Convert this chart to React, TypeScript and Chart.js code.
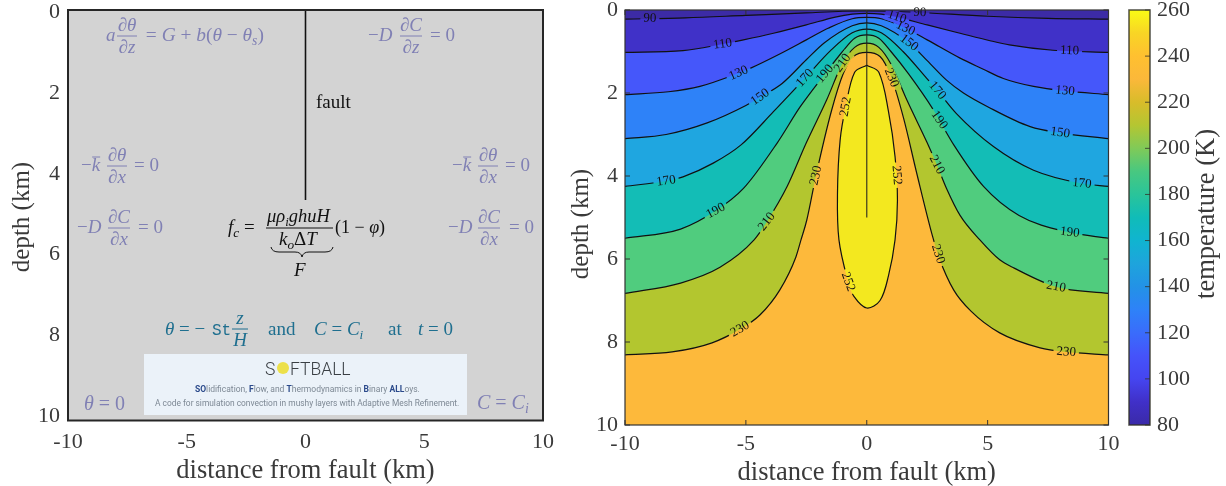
import React, { useEffect, useRef } from "react";
import { Chart, registerables } from "chart.js";

Chart.register(...registerables);

const FONT = "'Liberation Serif'";
const TICK_COLOR = "#3a3a3a";
const xTicks = [-10, -5, 0, 5, 10];
const yTicks = [0, 2, 4, 6, 8, 10];
const colorTicks = [80, 100, 120, 140, 160, 180, 200, 220, 240, 260];

const faultLeft = [[0, -0.05], [0, 4.65]];
const faultRight = [[0, 0], [0, 5]];

const c90 = [[-10, .22], [-7.5, .19], [-5, .13], [-2.5, .07], [-1, .03], [0, .02], [1, .03], [2.2, .06], [5, .15], [7.5, .2], [10, .22]];
const c110 = [[-10, 1.02], [-7.6, .98], [-5.96, .82], [-5.1, .72], [-3.86, .56], [-2.5, .36], [-1.3, .17], [-.6, .1], [0, .08], [.6, .1], [1.25, .17], [2.5, .36], [3.86, .56], [5.1, .74], [5.9, .84], [7.7, .97], [10, 1.02]];
const c130 = [[-10, 2.04], [-8.2, 1.97], [-6.9, 1.84], [-5.3, 1.52], [-4.8, 1.4], [-3.6, 1.06], [-2.5, .72], [-1.6, .44], [-.6, .21], [0, .18], [.6, .21], [1.6, .44], [2.5, .72], [3.86, 1.16], [4.8, 1.42], [5.65, 1.65], [6.9, 1.84], [8.2, 1.95], [10, 2.04]];
const c150 = [[-10, 3.1], [-8.3, 3.0], [-6.6, 2.72], [-5, 2.3], [-4.41, 2.1], [-3.5, 1.77], [-2.5, 1.2], [-1.75, .79], [-.6, .38], [0, .31], [.6, .38], [1.75, .79], [2.5, 1.22], [3.3, 1.69], [4, 2.0], [5, 2.33], [6.76, 2.81], [8, 2.96], [10, 3.1]];
const c170 = [[-10, 4.25], [-8.3, 4.12], [-7.6, 4.02], [-6.35, 3.69], [-5.2, 3.25], [-3.86, 2.45], [-2.55, 1.64], [-1.5, .98], [-.6, .55], [0, .46], [.6, .55], [1.5, 1.0], [2.5, 1.66], [2.92, 1.94], [3.7, 2.49], [5.24, 3.29], [6.9, 3.86], [8.9, 4.18], [10, 4.25]];
const c190 = [[-10, 5.5], [-7.7, 5.28], [-6.25, 4.84], [-5.1, 4.3], [-3.7, 3.2], [-2.75, 2.33], [-1.73, 1.54], [-1, 1.0], [-.5, .68], [0, .6], [.5, .68], [1, 1.0], [1.73, 1.54], [2.75, 2.4], [3, 2.65], [3.6, 3.25], [4.83, 4.25], [6.3, 4.95], [8.4, 5.36], [10, 5.5]];
const c210 = [[-10, 6.83], [-7.7, 6.58], [-6.07, 6.2], [-4.66, 5.54], [-4.13, 5.1], [-3.3, 4.26], [-2.5, 3.2], [-1.66, 2.17], [-1, 1.28], [-.5, .9], [0, .8], [.5, .9], [1, 1.3], [1.66, 2.17], [2.5, 3.2], [2.9, 3.73], [3.3, 4.3], [3.86, 4.95], [4.68, 5.54], [5.5, 6.02], [6.1, 6.22], [7.83, 6.67], [10, 6.83]];
const c230 = [[-10, 8.31], [-8.05, 8.24], [-6.4, 8.02], [-5.24, 7.69], [-4.42, 7.35], [-3.6, 6.75], [-2.93, 5.95], [-2.72, 5.54], [-2.48, 5.06], [-2.1, 3.99], [-1.45, 2.41], [-.97, 1.53], [-.55, 1.12], [0, 1.02], [.55, 1.12], [1, 1.6], [1.52, 2.6], [2.07, 3.94], [2.72, 5.45], [3, 5.98], [3.6, 6.75], [4.3, 7.25], [5.5, 7.78], [7.17, 8.14], [8.25, 8.24], [10, 8.31]];
const c252 = [[0, 1.33], [.5, 1.5], [.9, 2.45], [1.17, 3.53], [1.27, 4.58], [1.17, 5.54], [.9, 6.4], [.55, 7.0], [0, 7.18], [-.53, 6.9], [-.77, 6.55], [-1.15, 5.54], [-1.21, 4.4], [-1.1, 3.13], [-.87, 2.33], [-.5, 1.5], [0, 1.33]];

const levels = [c90, c110, c130, c150, c170, c190, c210, c230];
const bandColors = ["#3c2ba6", "#4031c8", "#4557fa", "#2e82f8", "#1fa6e0", "#13bdb6", "#50cc7e", "#b3c62f"];
const baseColor = "#fdb93b";
const coreColor = "#f3e81f";

// text, x, y, angle in degrees
const contourLabels: [string, number, number, number][] = [
  ["90", -8.97, .2, 2], ["110", -5.96, .82, -8], ["130", -5.3, 1.52, -24], ["150", -4.41, 2.1, -35],
  ["170", -8.3, 4.12, -8], ["170", -2.55, 1.64, -48], ["190", -6.25, 4.84, -28], ["190", -1.73, 1.54, -50],
  ["210", -4.13, 5.1, -52], ["210", -1, 1.28, -55], ["230", -2.1, 3.99, -78], ["252", -.87, 2.33, -80],
  ["252", -.77, 6.55, 70], ["230", -5.24, 7.69, -30],
  ["90", 2.2, .06, 2], ["110", 1.25, .17, 18], ["130", 1.6, .44, 25], ["150", 1.75, .79, 37],
  ["170", 2.92, 1.94, 50], ["190", 3, 2.65, 55], ["210", 2.9, 3.73, 62], ["230", 1.02, 1.63, 68],
  ["252", 1.24, 3.98, 85], ["110", 8.39, .98, 2], ["130", 8.2, 1.95, 5], ["150", 8, 2.96, 8],
  ["170", 8.9, 4.18, 5], ["190", 8.4, 5.36, 6], ["210", 7.83, 6.67, 10], ["230", 8.25, 8.24, 4], ["230", 2.95, 5.88, 72],
];

const colorStops: [number, string][] = [
  [80, "#3a2aa8"], [90, "#4030c8"], [100, "#4545f0"], [110, "#4553fa"], [120, "#3a6cfb"], [130, "#2e82f8"],
  [140, "#2392e6"], [150, "#1ea4dc"], [160, "#10b4d0"], [170, "#10bcb8"], [180, "#2ac49a"], [190, "#48c880"],
  [200, "#80ca58"], [210, "#b4c632"], [220, "#d8bc2a"], [230, "#fbb83a"], [240, "#ffc030"], [250, "#f8d525"], [260, "#f9fb15"],
];

const pts = (a: number[][]) => a.map(([x, y]) => ({ x, y }));
const setTicks = (vals: number[]) => (s: any) => { s.ticks = vals.map((value) => ({ value })); };

function frame(width: number, color: string, tickLen: number, sides: string) {
  return {
    id: "frame",
    afterDatasetsDraw(chart: any) {
      const { ctx, chartArea: a, scales } = chart;
      ctx.save();
      ctx.strokeStyle = color;
      ctx.lineWidth = width;
      ctx.strokeRect(a.left, a.top, a.right - a.left, a.bottom - a.top);
      ctx.lineWidth = 1;
      ctx.beginPath();
      if (tickLen > 0) {
        for (const id of Object.keys(scales)) {
          const s = scales[id];
          if (!s.options.display) continue;
          for (const t of s.ticks) {
            const p = s.getPixelForValue(t.value);
            if (s.isHorizontal()) {
              ctx.moveTo(p, a.bottom); ctx.lineTo(p, a.bottom - tickLen);
              ctx.moveTo(p, a.top); ctx.lineTo(p, a.top + tickLen);
            } else {
              if (sides.includes("l")) { ctx.moveTo(a.left, p); ctx.lineTo(a.left + tickLen, p); }
              if (sides.includes("r")) { ctx.moveTo(a.right, p); ctx.lineTo(a.right - tickLen, p); }
            }
          }
        }
      }
      ctx.stroke();
      ctx.restore();
    },
  };
}

const noPad = (s: any) => { s.paddingLeft = 0; s.paddingRight = 0; s.paddingTop = 0; s.paddingBottom = 0; };

function axis(min: number, max: number, ticks: number[], title: string, titleSize: number, fit: (s: any) => void, pad: any, reverse = false, tickPad = 8) {
  return {
    type: "linear", min, max, reverse,
    grid: { display: false, drawTicks: false, tickLength: 0 },
    border: { display: false },
    afterBuildTicks: setTicks(ticks),
    afterFit: (s: any) => { fit(s); noPad(s); },
    ticks: {
      color: TICK_COLOR, padding: tickPad, maxRotation: 0, autoSkip: false,
      font: { family: FONT, size: 22 },
      callback: (v: any) => String(v),
    },
    title: { display: !!title, text: title, color: TICK_COLOR, padding: pad, font: { family: FONT, size: titleSize } },
  };
}

type Part = [string, number?];
function seq(ctx: any, x: number, y: number, parts: Part[], size: number, color: string) {
  ctx.fillStyle = color;
  ctx.textAlign = "left";
  ctx.textBaseline = "alphabetic";
  let cx = x;
  for (const [s, style = 0] of parts) {
    const sub = style === 2;
    ctx.font = `${style === 1 || sub ? "italic " : ""}${sub ? size * 0.7 : size}px ${style === 3 ? "'Liberation Mono'" : FONT}`;
    ctx.fillText(s, cx, y + (sub ? 4 : 0));
    cx += ctx.measureText(s).width;
  }
  return cx;
}
function frac(ctx: any, num: string, den: string, cx: number, y: number, w: number, size: number, color: string) {
  ctx.strokeStyle = color;
  ctx.lineWidth = 1;
  ctx.beginPath();
  ctx.moveTo(cx - w / 2, y); ctx.lineTo(cx + w / 2, y);
  ctx.stroke();
  ctx.fillStyle = color;
  ctx.textAlign = "center";
  ctx.textBaseline = "alphabetic";
  ctx.font = `italic ${size}px ${FONT}`;
  ctx.fillText(num, cx, y - 5);
  ctx.fillText(den, cx, y + 17);
}

const annotations = {
  id: "annotations",
  beforeDatasetsDraw(chart: any) {
    const { ctx, chartArea: a } = chart;
    ctx.save();
    ctx.fillStyle = "#d3d3d3";
    ctx.fillRect(a.left, a.top, a.right - a.left, a.bottom - a.top);
    ctx.restore();
  },
  afterDatasetsDraw(chart: any) {
    const ctx = chart.ctx;
    ctx.save();
    const P = "#8080b4";
    const K = "#111111";
    const B = "#1f6f8f";
    const M = 19;
    // top boundary
    seq(ctx, 106, 41, [["a", 1]], M, P);
    frac(ctx, "∂θ", "∂z", 127, 36, 20, M, P);
    seq(ctx, 141, 41, [[" = ", 0], ["G", 1], [" + ", 0], ["b", 1], ["(", 0], ["θ", 1], [" − ", 0], ["θ", 1], ["s", 2], [")", 0]], 19.4, P);
    seq(ctx, 368, 41, [["−", 0], ["D", 1]], M, P);
    frac(ctx, "∂C", "∂z", 411, 36, 22, M, P);
    seq(ctx, 430, 41, [["= 0", 0]], M, P);
    // side boundaries
    for (const [x, fx, ex] of [[81, 117, 134], [452, 488, 505]]) {
      const e = seq(ctx, x, 171, [["−", 0], ["k", 1]], M, P);
      ctx.strokeStyle = P; ctx.lineWidth = 1;
      ctx.beginPath(); ctx.moveTo(e - 8, 157); ctx.lineTo(e, 157); ctx.stroke();
      frac(ctx, "∂θ", "∂x", fx, 166, 20, M, P);
      seq(ctx, ex, 171, [["= 0", 0]], M, P);
    }
    for (const [x, fx, ex] of [[77, 119, 138], [448, 489, 509]]) {
      seq(ctx, x, 233, [["−", 0], ["D", 1]], M, P);
      frac(ctx, "∂C", "∂x", fx, 228, 22, M, P);
      seq(ctx, ex, 233, [["= 0", 0]], M, P);
    }
    seq(ctx, 84, 410, [["θ", 1], [" = 0", 0]], 20, P);
    seq(ctx, 477, 409, [["C", 1], [" = ", 0], ["C", 1], ["i", 2]], 20, P);
    // fault
    seq(ctx, 316, 108, [["fault", 0]], 19, K);
    // friction
    seq(ctx, 228, 233, [["f", 1], ["c", 2], [" =", 0]], 19, K);
    ctx.strokeStyle = K; ctx.lineWidth = 1;
    ctx.beginPath(); ctx.moveTo(266, 228); ctx.lineTo(333, 228); ctx.stroke();
    seq(ctx, 267, 222, [["μρ", 1], ["i", 2], ["ghuH", 1]], 18.5, K);
    seq(ctx, 279, 245, [["k", 1], ["o", 2], ["Δ", 0], ["T", 1]], 19, K);
    seq(ctx, 335, 233, [["(1 − ", 0], ["φ", 1], [")", 0]], 18, K);
    ctx.beginPath();
    ctx.moveTo(271, 247); ctx.quadraticCurveTo(272, 252, 279, 252); ctx.lineTo(295, 252);
    ctx.quadraticCurveTo(301, 252, 302, 257); ctx.quadraticCurveTo(303, 252, 309, 252);
    ctx.lineTo(325, 252); ctx.quadraticCurveTo(332, 252, 333, 247);
    ctx.stroke();
    seq(ctx, 294, 276, [["F", 1]], 19, K);
    // initial condition
    seq(ctx, 165, 335, [["θ", 1], [" = −", 0]], 19, B);
    seq(ctx, 212, 335, [["St", 3]], 16, B);
    frac(ctx, "z", "H", 240, 329, 16, 19, B);
    seq(ctx, 268, 335, [["and", 0]], 19, B);
    seq(ctx, 314, 335, [["C", 1], [" = ", 0], ["C", 1], ["i", 2]], 19, B);
    seq(ctx, 388, 335, [["at", 0]], 19, B);
    seq(ctx, 418, 335, [["t", 1], [" = 0", 0]], 19, B);
    // project banner
    ctx.fillStyle = "#ebf2f9";
    ctx.fillRect(144, 354, 323, 61);
    ctx.textBaseline = "alphabetic";
    ctx.textAlign = "left";
    ctx.font = "300 17.5px Roboto";
    ctx.fillStyle = "#3a3f44";
    ctx.fillText("S", 265, 375);
    ctx.fillText("FTBALL", 290, 375);
    ctx.beginPath(); ctx.fillStyle = "#ece04a"; ctx.arc(283, 368, 6, 0, Math.PI * 2); ctx.fill();
    const navy = "#2b4a8b";
    const grey = "#7d8894";
    let x = 195;
    for (const [s, bold] of [["SO", 1], ["lidification, ", 0], ["F", 1], ["low, and ", 0], ["T", 1], ["hermodynamics in ", 0], ["B", 1], ["inary ", 0], ["ALL", 1], ["oys.", 0]] as [string, number][]) {
      ctx.font = `${bold ? "bold " : ""}8.5px Roboto`;
      ctx.fillStyle = bold ? navy : grey;
      ctx.fillText(s, x, 392);
      x += ctx.measureText(s).width;
    }
    ctx.font = "8.4px Roboto";
    ctx.fillStyle = grey;
    ctx.fillText("A code for simulation convection in mushy layers with Adaptive Mesh Refinement.", 155, 406);
    ctx.restore();
  },
};

const labelGeom = (chart: any, l: [string, number, number, number]) => ({
  px: chart.scales.x.getPixelForValue(l[1]),
  py: chart.scales.y.getPixelForValue(l[2]),
  rad: (l[3] * Math.PI) / 180,
});

const LABEL_FONT = `13px ${FONT}`;
const contourText = {
  id: "contourText",
  beforeDatasetDraw(chart: any) {
    const { ctx } = chart;
    ctx.save();
    ctx.font = LABEL_FONT;
    ctx.beginPath();
    ctx.rect(0, 0, chart.width, chart.height);
    for (const l of contourLabels) {
      const { px, py, rad } = labelGeom(chart, l);
      const hw = ctx.measureText(l[0]).width / 2 + 3;
      const hh = 6;
      const c = Math.cos(rad), s = Math.sin(rad);
      const corner = (u: number, v: number) => [px + u * c - v * s, py + u * s + v * c];
      const pts4 = [corner(-hw, -hh), corner(hw, -hh), corner(hw, hh), corner(-hw, hh)];
      ctx.moveTo(pts4[0][0], pts4[0][1]);
      for (let i = 1; i < 4; i++) ctx.lineTo(pts4[i][0], pts4[i][1]);
      ctx.closePath();
    }
    ctx.clip("evenodd");
  },
  afterDatasetDraw(chart: any) {
    chart.ctx.restore();
  },
  afterDatasetsDraw(chart: any) {
    const ctx = chart.ctx;
    ctx.save();
    ctx.font = LABEL_FONT;
    ctx.fillStyle = "#111";
    ctx.textAlign = "center";
    ctx.textBaseline = "middle";
    for (const l of contourLabels) {
      const { px, py, rad } = labelGeom(chart, l);
      ctx.save();
      ctx.translate(px, py);
      ctx.rotate(rad);
      ctx.fillText(l[0], 0, 0);
      ctx.restore();
    }
    ctx.restore();
  },
};

const plotBackgroundEarly = {
  id: "plotBackgroundEarly",
  beforeDraw(chart: any) {
    const { ctx, chartArea: a } = chart;
    ctx.save();
    ctx.fillStyle = baseColor;
    ctx.fillRect(a.left, a.top, a.right - a.left, a.bottom - a.top);
    ctx.restore();
  },
};

function sideTitle(id: string, text: string, x: number, y: number, size: number) {
  return {
    id,
    afterDraw(chart: any) {
      const ctx = chart.ctx;
      ctx.save();
      ctx.translate(x, y);
      ctx.rotate(-Math.PI / 2);
      ctx.font = `${size}px ${FONT}`;
      ctx.fillStyle = TICK_COLOR;
      ctx.textAlign = "center";
      ctx.textBaseline = "middle";
      ctx.fillText(text, 0, 0);
      ctx.restore();
    },
  };
}

export default function App() {
  const leftRef = useRef<HTMLCanvasElement>(null);
  const rightRef = useRef<HTMLCanvasElement>(null);
  const barRef = useRef<HTMLCanvasElement>(null);

  useEffect(() => {
    const left = new Chart(leftRef.current as any, {
      type: "scatter",
      data: {
        datasets: [{
          data: pts(faultLeft), showLine: true, pointRadius: 0, borderColor: "#111", borderWidth: 1.6,
        }],
      },
      plugins: [annotations, frame(2, "#262626", 0, ""), sideTitle("depthLeft", "depth (km)", 22, 217, 25)],
      options: {
        animation: false, responsive: false,
        layout: { padding: { top: 10, left: 0, right: 17, bottom: 0 } },
        plugins: { legend: { display: false }, tooltip: { enabled: false } },
        scales: {
          x: axis(-10, 10, xTicks, "distance from fault (km)", 26.5, (s: any) => { s.height = 65.5; }, { top: 0, bottom: -1 }, false, 8.5),
          y: axis(-0.05, 10.1, yTicks, "", 25, (s: any) => { s.width = 68; }, { top: 8, bottom: 0 }, true, 8),
        },
      } as any,
    });

    const fills = levels.map((lvl, i) => ({
      data: pts(lvl), showLine: true, pointRadius: 0, borderColor: "#111", borderWidth: 1.2,
      backgroundColor: bandColors[i], fill: { value: 0 }, cubicInterpolationMode: "monotone",
    }));
    const right = new Chart(rightRef.current as any, {
      type: "scatter",
      data: {
        datasets: [
          { data: pts(faultRight), showLine: true, pointRadius: 0, borderColor: "rgba(30,30,30,0.8)", borderWidth: 1.3 },
          ...fills,
          { data: pts(c252), showLine: true, pointRadius: 0, borderColor: "#111", borderWidth: 1.2, backgroundColor: coreColor, fill: "shape", tension: 0.35 },
        ],
      },
      plugins: [plotBackgroundEarly, contourText, frame(1.2, "#333333", 5, "lr"), sideTitle("depthRight", "depth (km)", 21, 224, 25)],
      options: {
        animation: false, responsive: false,
        layout: { padding: { top: 10, left: 0, right: 11.5, bottom: 0 } },
        plugins: { legend: { display: false }, tooltip: { enabled: false }, filler: { drawTime: "beforeDatasetsDraw" } },
        scales: {
          x: axis(-10, 10, xTicks, "distance from fault (km)", 26.5, (s: any) => { s.height = 61; }, { top: 0, bottom: -3 }, false, 6),
          y: axis(0, 10, yTicks, "", 25, (s: any) => { s.width = 65; }, { top: 7, bottom: 0 }, true, 7),
        },
      } as any,
    });

    const bar = new Chart(barRef.current as any, {
      type: "bar",
      data: {
        labels: ["temperature"],
        datasets: [{
          data: [[80, 260]],
          barPercentage: 1, categoryPercentage: 1, borderWidth: 0,
          backgroundColor: (c: any) => {
            const { ctx, chartArea, scales } = c.chart;
            if (!chartArea) return "#888";
            const g = ctx.createLinearGradient(0, chartArea.bottom, 0, chartArea.top);
            const lo = scales.y.min, hi = scales.y.max;
            for (const [v, col] of colorStops) g.addColorStop((v - lo) / (hi - lo), col);
            return g;
          },
        }],
      },
      plugins: [sideTitle("colorTitle", "temperature (K)", 87, 214, 26.5), frame(1.6, "rgba(50,50,40,0.8)", 5, "r")],
      options: {
        animation: false, responsive: false,
        layout: { padding: { top: 10, left: 9, right: 0, bottom: 61 } },
        plugins: { legend: { display: false }, tooltip: { enabled: false } },
        scales: {
          x: { display: false },
          y: {
            position: "right", min: 80, max: 260,
            grid: { display: false, drawTicks: false, tickLength: 0 }, border: { display: false },
            afterBuildTicks: setTicks(colorTicks),
            afterFit: (s: any) => { s.width = 76; noPad(s); },
            ticks: { color: TICK_COLOR, padding: 7, autoSkip: false, font: { family: FONT, size: 22 }, callback: (v: any) => String(v) },
          },
        },
      } as any,
    });

    return () => { left.destroy(); right.destroy(); bar.destroy(); };
  }, []);

  const box = (l: number, w: number): React.CSSProperties => ({ position: "absolute", left: l, top: 0, width: w, height: 486, display: "block" });
  return (
    <>
      <canvas ref={leftRef} width={560} height={486} style={box(0, 560)} />
      <canvas ref={rightRef} width={560} height={486} style={box(560, 560)} />
      <canvas ref={barRef} width={106} height={486} style={box(1120, 106)} />
    </>
  );
}
